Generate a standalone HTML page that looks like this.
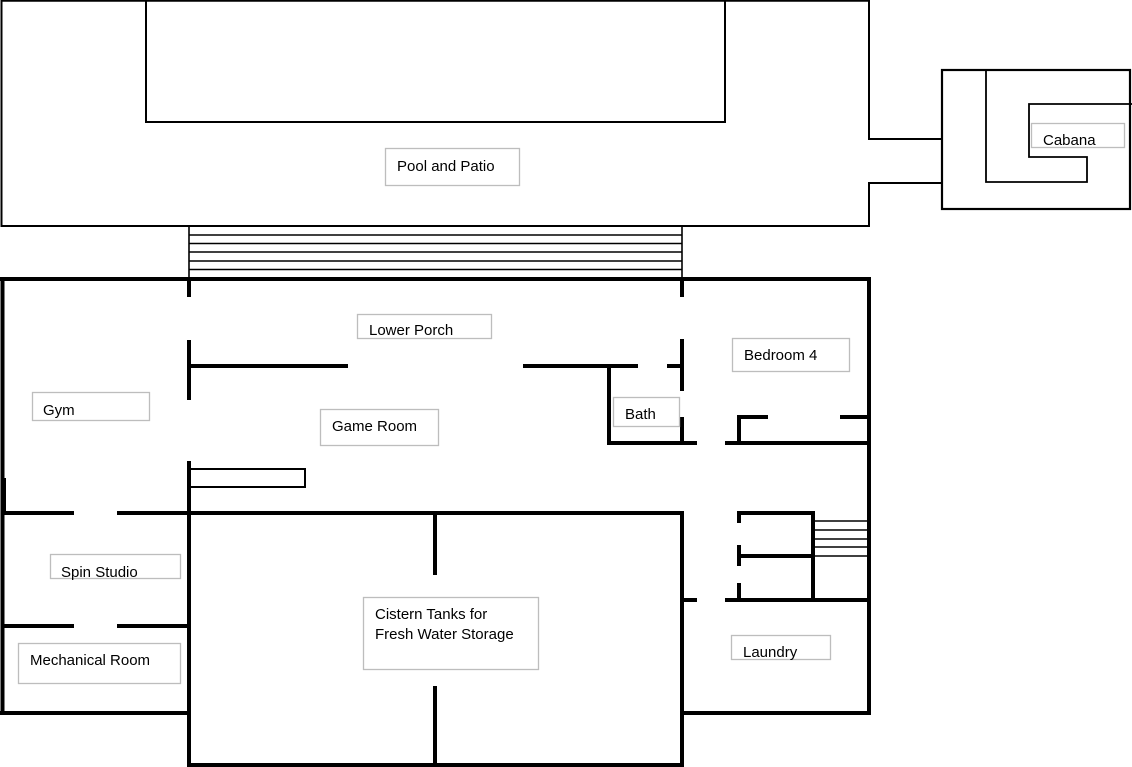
<!DOCTYPE html>
<html><head><meta charset="utf-8"><style>
html,body{margin:0;padding:0;background:#fff;width:1132px;height:767px;overflow:hidden}
svg{display:block}
text{font-family:"Liberation Sans",sans-serif;font-size:15px;fill:#000}
.lb{fill:#fff;stroke:#bdbdbd;stroke-width:1.3}
</style></head><body>
<svg width="1132" height="767" viewBox="0 0 1132 767" xmlns="http://www.w3.org/2000/svg">
<g stroke="#000" fill="none" stroke-linecap="butt">
<g stroke-width="2">
<polyline points="1.5,0 1.5,226 869,226 869,183 942,183"/>
<polyline points="1,0.8 869,0.8 869,139 942,139"/>
<polyline points="146,0 146,122 725,122 725,0"/>
</g>
<g stroke-width="1.6">
<line x1="189" y1="226" x2="189" y2="279"/><line x1="682" y1="226" x2="682" y2="279"/>
<line x1="189" y1="235" x2="682" y2="235"/><line x1="189" y1="243.5" x2="682" y2="243.5"/>
<line x1="189" y1="252" x2="682" y2="252"/><line x1="189" y1="261" x2="682" y2="261"/>
<line x1="189" y1="269.5" x2="682" y2="269.5"/><line x1="189" y1="278" x2="682" y2="278"/>
</g>
<g stroke-width="2.2">
<rect x="942" y="70" width="188" height="139"/>
<polyline points="986,70 986,182 1087,182 1087,157 1029,157 1029,104 1132,104" stroke-width="1.8"/>
</g>
<g stroke-width="4">
<polyline points="0,279 869,279 869,713 682,713"/>
<line x1="2.5" y1="279" x2="2.5" y2="713"/>
<line x1="0" y1="713" x2="189" y2="713"/>
<rect x="189" y="513" width="493" height="252"/>
<line x1="189" y1="279" x2="189" y2="297"/>
<line x1="189" y1="340" x2="189" y2="400"/>
<line x1="189" y1="461" x2="189" y2="513"/>
<line x1="189" y1="366" x2="348" y2="366"/>
<line x1="523" y1="366" x2="638" y2="366"/>
<line x1="667" y1="366" x2="682" y2="366"/>
<polyline points="609,366 609,443 697,443"/>
<line x1="682" y1="279" x2="682" y2="297"/>
<line x1="682" y1="339" x2="682" y2="391"/>
<line x1="682" y1="417" x2="682" y2="443"/>
<line x1="725" y1="443" x2="869" y2="443"/>
<polyline points="739,443 739,417 768,417"/>
<line x1="840" y1="417" x2="869" y2="417"/>
<polyline points="739,523 739,513 813,513 813,600"/>
<line x1="739" y1="545" x2="739" y2="566"/>
<line x1="739" y1="556" x2="813" y2="556"/>
<line x1="739" y1="583" x2="739" y2="600"/>
<line x1="682" y1="600" x2="697" y2="600"/>
<line x1="725" y1="600" x2="869" y2="600"/>
<line x1="2" y1="513" x2="74" y2="513"/>
<line x1="117" y1="513" x2="189" y2="513"/>
<line x1="2" y1="626" x2="74" y2="626"/>
<line x1="117" y1="626" x2="189" y2="626"/>
<line x1="435" y1="513" x2="435" y2="575"/>
<line x1="435" y1="686" x2="435" y2="765"/>
<line x1="4" y1="478" x2="4" y2="513"/>
</g>
<rect x="189" y="469" width="116" height="18" stroke-width="2"/>
<g stroke-width="1.5">
<line x1="813" y1="521" x2="869" y2="521"/><line x1="813" y1="530" x2="869" y2="530"/>
<line x1="813" y1="539" x2="869" y2="539"/><line x1="813" y1="547" x2="869" y2="547"/>
<line x1="813" y1="556" x2="869" y2="556"/>
</g>
</g>
<rect class="lb" x="385.5" y="148.5" width="134" height="37"/><text x="397" y="171">Pool and Patio</text>
<rect class="lb" x="357.5" y="314.5" width="134" height="24"/><text x="369" y="335">Lower Porch</text>
<rect class="lb" x="732.5" y="338.5" width="117" height="33"/><text x="744" y="360">Bedroom 4</text>
<rect class="lb" x="32.5" y="392.5" width="117" height="28"/><text x="43" y="415">Gym</text>
<rect class="lb" x="320.5" y="409.5" width="118" height="36"/><text x="332" y="431">Game Room</text>
<rect class="lb" x="613.5" y="397.5" width="66" height="29"/><text x="625" y="419">Bath</text>
<rect class="lb" x="1031.5" y="123.5" width="93" height="24"/><text x="1043" y="145">Cabana</text>
<rect class="lb" x="50.5" y="554.5" width="130" height="24"/><text x="61" y="577">Spin Studio</text>
<rect class="lb" x="18.5" y="643.5" width="162" height="40"/><text x="30" y="665">Mechanical Room</text>
<rect class="lb" x="363.5" y="597.5" width="175" height="72"/><text x="375" y="619">Cistern Tanks for</text><text x="375" y="639">Fresh Water Storage</text>
<rect class="lb" x="731.5" y="635.5" width="99" height="24"/><text x="743" y="657">Laundry</text>
</svg>
</body></html>
